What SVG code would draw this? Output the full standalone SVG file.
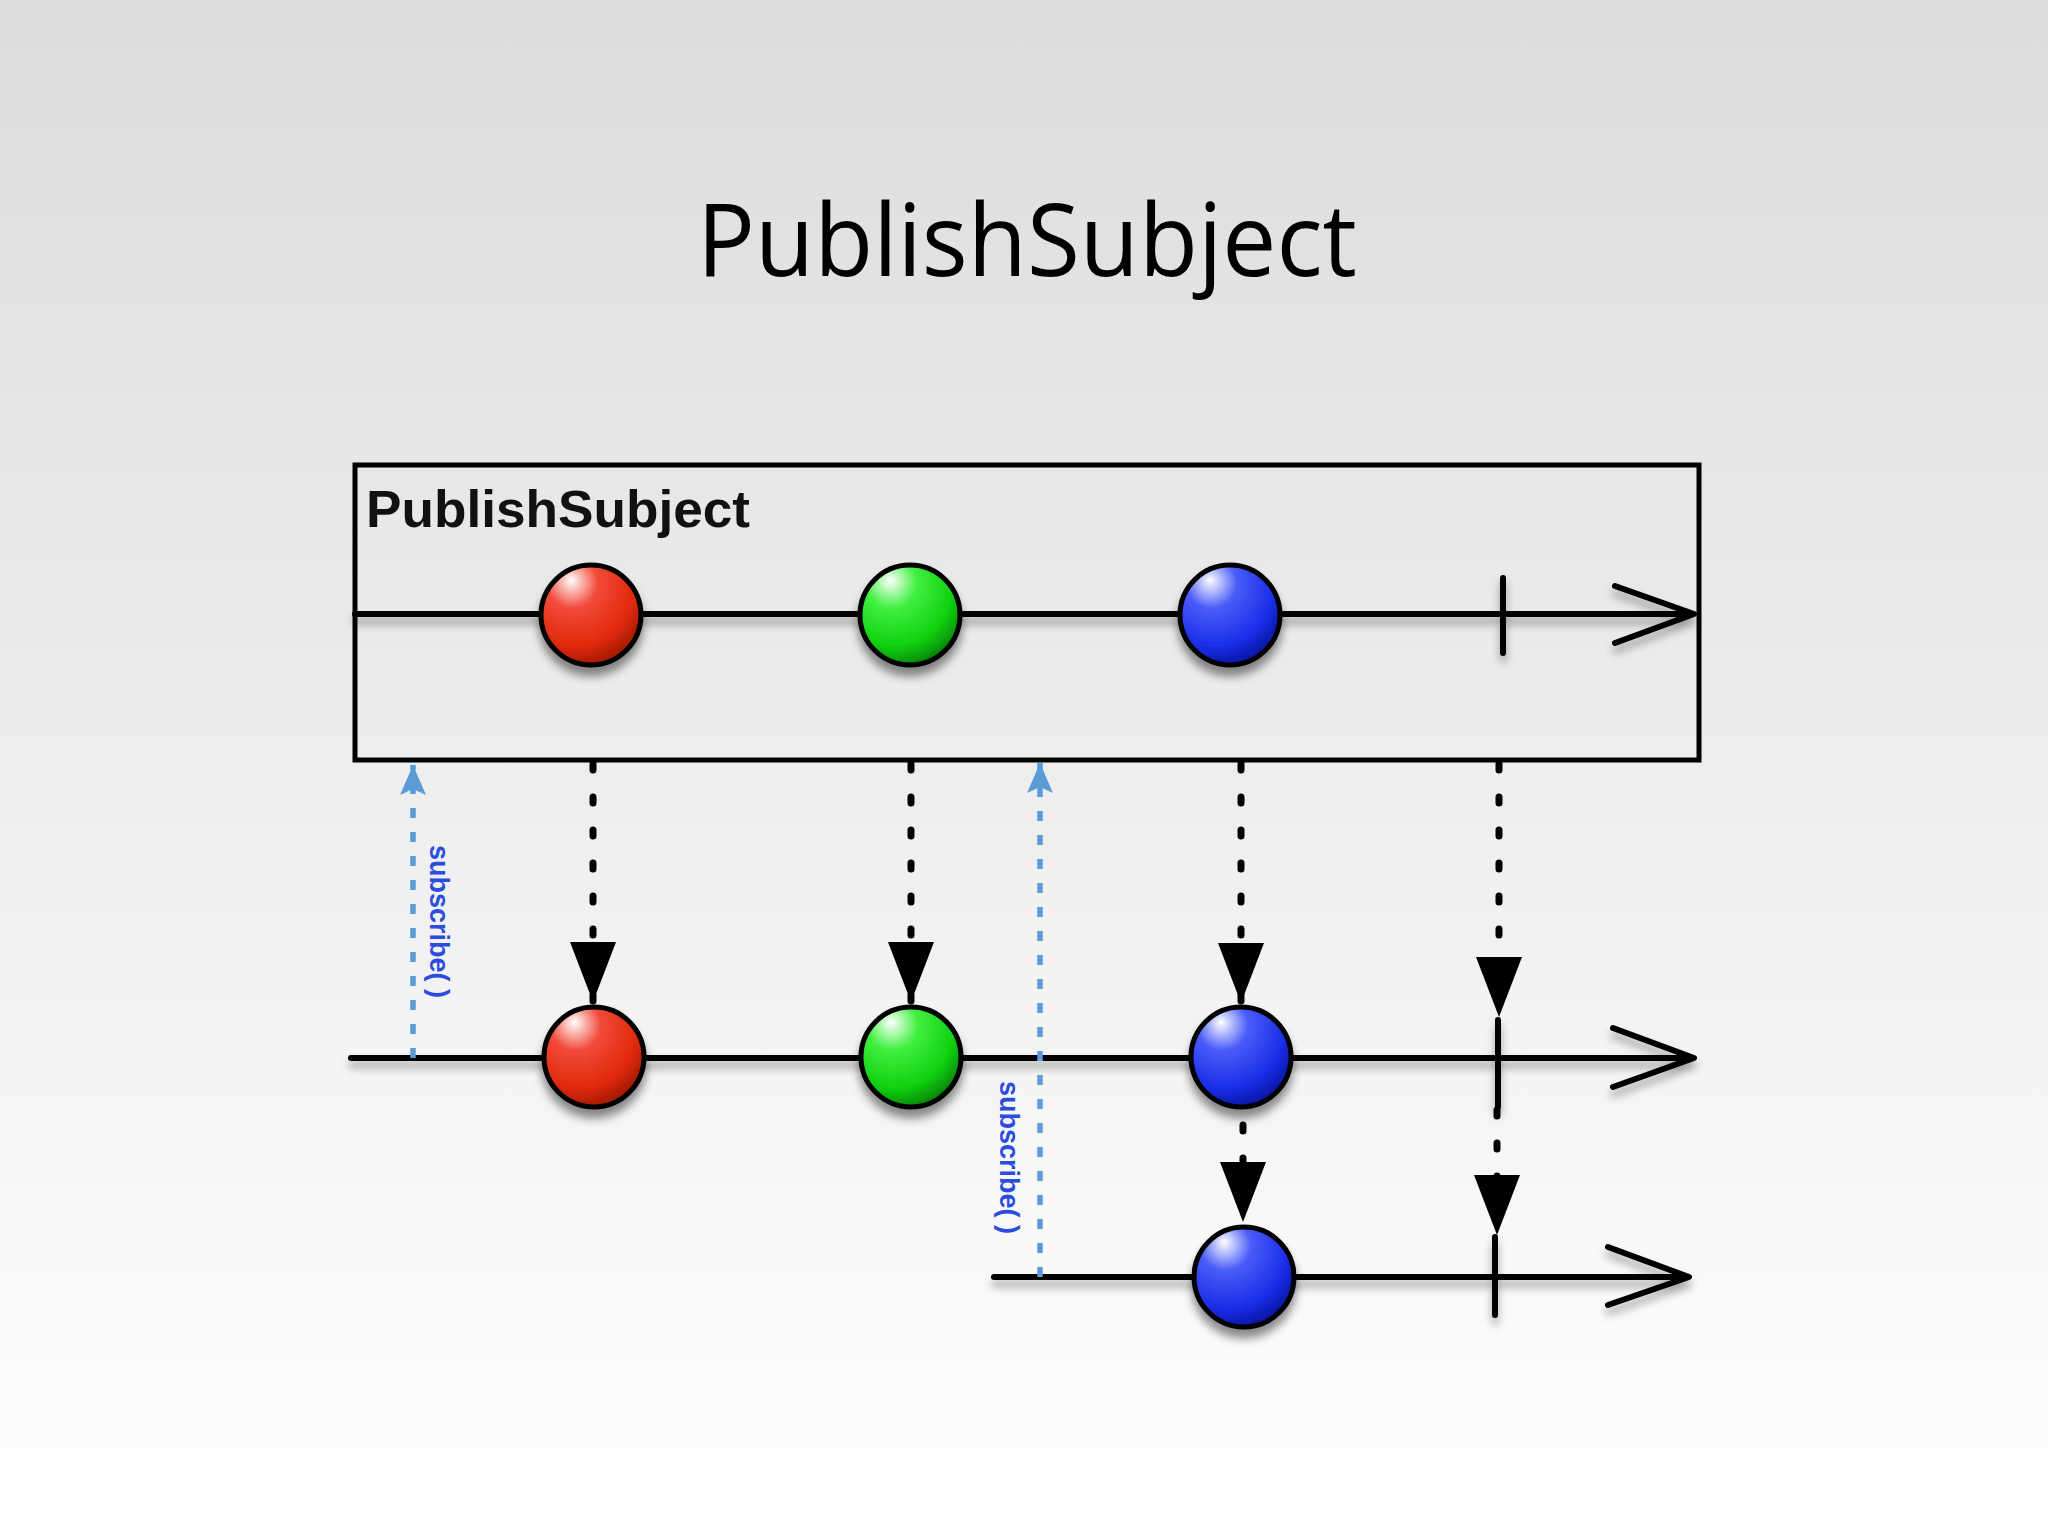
<svg xmlns="http://www.w3.org/2000/svg" width="2048" height="1536" viewBox="0 0 2048 1536">
  <defs>
    <linearGradient id="bg" x1="0" y1="0" x2="0" y2="1">
      <stop offset="0" stop-color="#dcdcdc"/>
      <stop offset="0.45" stop-color="#ececec"/>
      <stop offset="1" stop-color="#ffffff"/>
    </linearGradient>
    <radialGradient id="gRed" cx="0.35" cy="0.25" r="0.85" fx="0.3" fy="0.15">
      <stop offset="0" stop-color="#ffffff"/>
      <stop offset="0.3" stop-color="#f24a3a"/>
      <stop offset="0.7" stop-color="#e02a0a"/>
      <stop offset="1" stop-color="#8a1200"/>
    </radialGradient>
    <radialGradient id="gGreen" cx="0.35" cy="0.25" r="0.85" fx="0.3" fy="0.15">
      <stop offset="0" stop-color="#ffffff"/>
      <stop offset="0.3" stop-color="#40f040"/>
      <stop offset="0.7" stop-color="#10d010"/>
      <stop offset="1" stop-color="#006a00"/>
    </radialGradient>
    <radialGradient id="gBlue" cx="0.35" cy="0.25" r="0.85" fx="0.3" fy="0.15">
      <stop offset="0" stop-color="#ffffff"/>
      <stop offset="0.3" stop-color="#4a5cf8"/>
      <stop offset="0.7" stop-color="#1a2ee8"/>
      <stop offset="1" stop-color="#000c8a"/>
    </radialGradient>
    <filter id="shadow" x="-10%" y="-50%" width="120%" height="200%">
      <feDropShadow dx="0" dy="7" stdDeviation="4" flood-color="#000" flood-opacity="0.35"/>
    </filter>
    <filter id="ballShadow" x="-40%" y="-40%" width="180%" height="180%">
      <feDropShadow dx="0" dy="9" stdDeviation="5" flood-color="#000" flood-opacity="0.45"/>
    </filter>
    <marker id="arrBlack" viewBox="0 0 60 46" refX="60" refY="23" markerWidth="60" markerHeight="46" markerUnits="userSpaceOnUse" orient="auto">
      <path d="M0,0 L60,23 L0,46 z" fill="#000"/>
    </marker>
    <marker id="arrBlue" viewBox="0 0 30 26" refX="30" refY="13" markerWidth="30" markerHeight="26" markerUnits="userSpaceOnUse" orient="auto">
      <path d="M0,0 L30,13 L0,26 L6,13 z" fill="#5a9bd8"/>
    </marker>
    <style>
      .title { font-family: "Open Sans", "Noto Sans", sans-serif; font-size: 100px; fill: #000; }
      .label { font-family: "Liberation Sans", Arial, sans-serif; font-weight: bold; font-size: 52px; fill: #111; }
      .sub { font-family: "Liberation Sans", Arial, sans-serif; font-weight: bold; font-size: 27px; fill: #2a4de0; }
      .line { stroke: #000; stroke-width: 6; fill: none; stroke-linecap: round; stroke-linejoin: round; }
      .ball { stroke: #000; stroke-width: 5; }
      .dot { stroke: #000; stroke-width: 7; fill: none; stroke-linecap: round; stroke-dasharray: 6 27; }
      .dash { stroke: #5a9bd8; stroke-width: 5.5; fill: none; stroke-dasharray: 10 14; }
      .box { fill: none; stroke: #000; stroke-width: 5; }
    </style>
  </defs>

  <rect x="0" y="0" width="2048" height="1536" fill="url(#bg)"/>

  <text class="title" x="1027" y="276" text-anchor="middle" textLength="660" lengthAdjust="spacingAndGlyphs">PublishSubject</text>

  <g id="subject-box">
    <rect class="box" x="355" y="465" width="1344" height="295"/>
    <text class="label" x="366" y="527" textLength="384" lengthAdjust="spacingAndGlyphs">PublishSubject</text>
  </g>

  <g id="timeline-source" filter="url(#shadow)">
    <path class="line" d="M355,614 L1692,614"/>
    <path class="line" d="M1615,586 L1694,614 L1615,643"/>
    <path class="line" d="M1503,578 L1503,653"/>
  </g>
  <g id="timeline-observer1" filter="url(#shadow)">
    <path class="line" d="M351,1058 L1692,1058"/>
    <path class="line" d="M1613,1028 L1694,1058 L1613,1087"/>
    <path class="line" d="M1498,1020 L1498,1107"/>
  </g>
  <g id="timeline-observer2" filter="url(#shadow)">
    <path class="line" d="M994,1277 L1687,1277"/>
    <path class="line" d="M1608,1247 L1689,1277 L1608,1305"/>
    <path class="line" d="M1495,1237 L1495,1315"/>
  </g>

  <g id="connectors">
    <path class="dot" d="M593,764 L593,1002" marker-end="url(#arrBlack)"/>
    <path class="dot" d="M911,764 L911,1002" marker-end="url(#arrBlack)"/>
    <path class="dot" d="M1241,764 L1241,1003" marker-end="url(#arrBlack)"/>
    <path class="dot" d="M1499,764 L1499,1017" marker-end="url(#arrBlack)"/>
    <path class="dot" d="M1243,1125 L1243,1222" marker-end="url(#arrBlack)"/>
    <path class="dot" d="M1497,1110 L1497,1235" marker-end="url(#arrBlack)"/>
    <path class="dash" d="M413,1058 L413,765" marker-end="url(#arrBlue)"/>
    <path class="dash" d="M1040,1277 L1040,763" marker-end="url(#arrBlue)"/>
    <text class="sub" transform="translate(430,845) rotate(90)">subscribe( )</text>
    <text class="sub" transform="translate(1000,1081) rotate(90)">subscribe( )</text>
  </g>

  <g id="src-red" filter="url(#ballShadow)"><circle class="ball" cx="591" cy="615" r="50" fill="url(#gRed)"/></g>
  <g id="src-green" filter="url(#ballShadow)"><circle class="ball" cx="910" cy="615" r="50" fill="url(#gGreen)"/></g>
  <g id="src-blue" filter="url(#ballShadow)"><circle class="ball" cx="1230" cy="615" r="50" fill="url(#gBlue)"/></g>
  <g id="obs1-red" filter="url(#ballShadow)"><circle class="ball" cx="594" cy="1057" r="50" fill="url(#gRed)"/></g>
  <g id="obs1-green" filter="url(#ballShadow)"><circle class="ball" cx="911" cy="1057" r="50" fill="url(#gGreen)"/></g>
  <g id="obs1-blue" filter="url(#ballShadow)"><circle class="ball" cx="1241" cy="1057" r="50" fill="url(#gBlue)"/></g>
  <g id="obs2-blue" filter="url(#ballShadow)"><circle class="ball" cx="1244" cy="1277" r="50" fill="url(#gBlue)"/></g>
</svg>
